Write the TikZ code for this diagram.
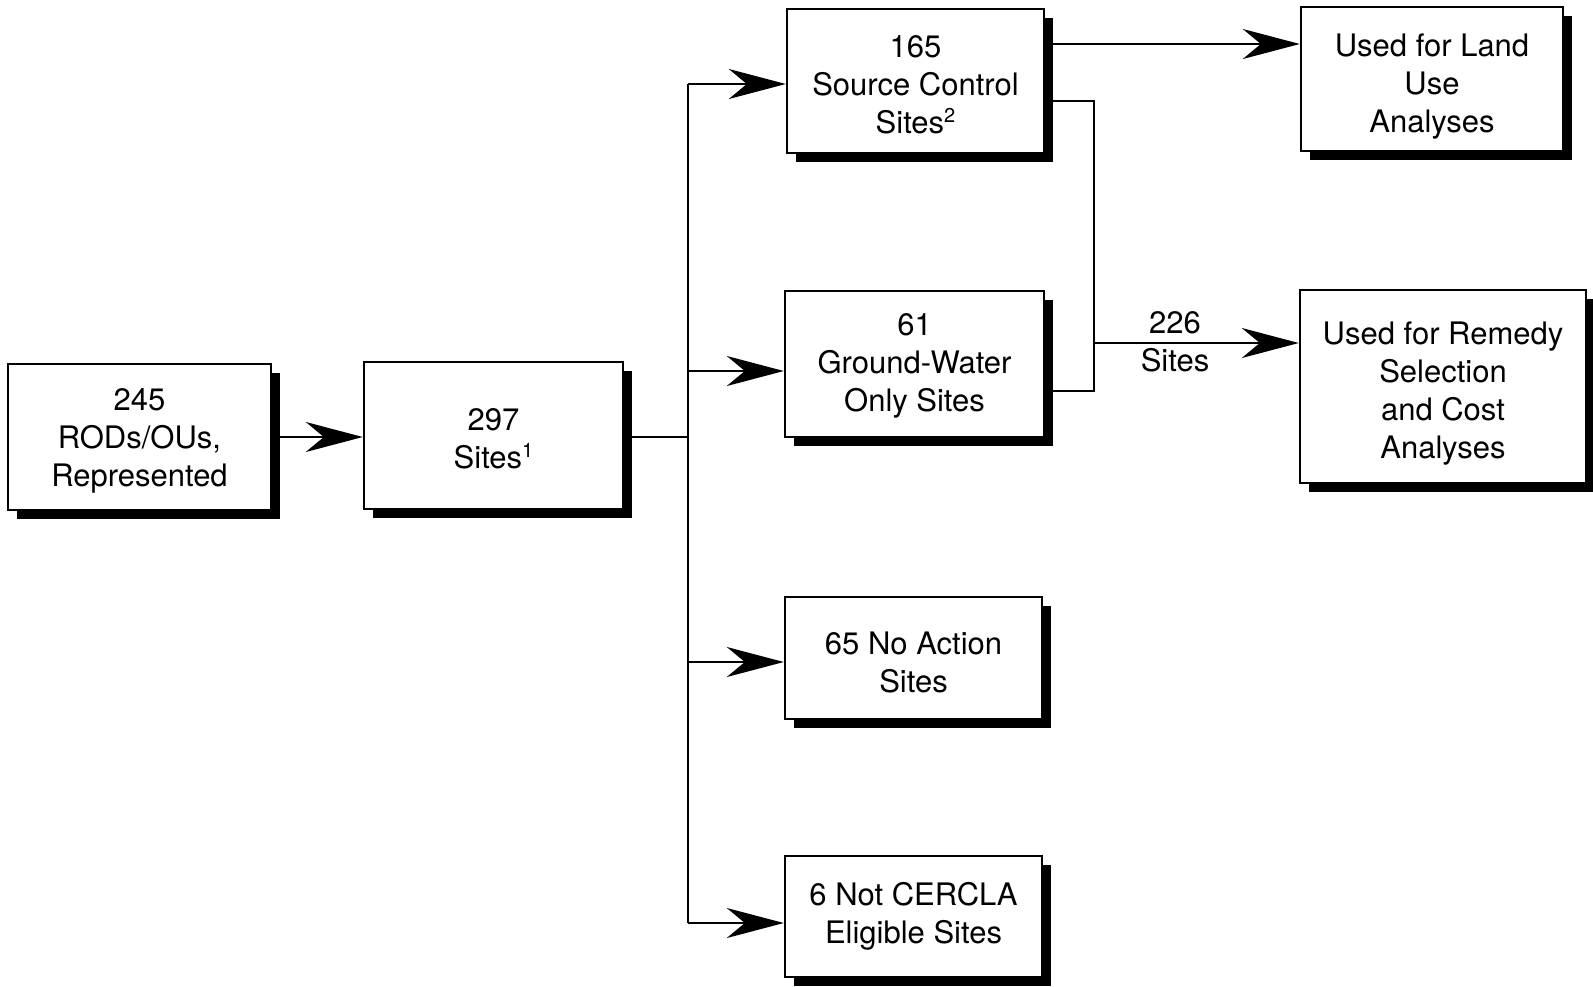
\documentclass[tikz,border=0pt]{standalone}
\usepackage{fontspec}
\setmainfont{TeX Gyre Heros}
\usetikzlibrary{arrows.meta,shadows}
\newcommand{\supnum}[1]{\raisebox{11pt}{\fontsize{20}{20}\selectfont #1}}
\begin{document}
\begin{tikzpicture}[x=1pt,y=-1pt,
  box/.style={draw=black, line width=2.4pt, fill=white, inner sep=0pt,
    drop shadow={shadow xshift=9pt, shadow yshift=-9pt, fill=black, opacity=1}},
  conn/.style={line width=2pt},
  arr/.style={conn, -{Stealth[length=57pt, width=30pt, inset=18pt]}},
  lbl/.style={align=center, inner sep=0pt, font=\fontsize{31}{38}\selectfont}]
\useasboundingbox (0,0) rectangle (1593,986);
\node[box, minimum width=263pt, minimum height=146pt] (A) at (139.5,437) {};
\node[box, minimum width=259pt, minimum height=147pt] (B) at (493.5,435.5) {};
\node[box, minimum width=257pt, minimum height=144pt] (C) at (915.5,81) {};
\node[box, minimum width=259pt, minimum height=146pt] (D) at (914.5,364) {};
\node[box, minimum width=257pt, minimum height=122pt] (E) at (913.5,658) {};
\node[box, minimum width=257pt, minimum height=121pt] (F) at (913.5,916.5) {};
\node[box, minimum width=262pt, minimum height=144pt] (G) at (1432,79) {};
\node[box, minimum width=286pt, minimum height=193pt] (H) at (1443,386.5) {};
\node[lbl] (At) at ([yshift=-4pt]A.center) {245\\RODs/OUs,\\Represented};
\node[lbl] (Bt) at ([yshift=-3pt]B.center) {297\\Sites\supnum{1}};
\node[lbl] (Ct) at ([yshift=-4pt]C.center) {165\\Source Control\\Sites\supnum{2}};
\node[lbl] (Dt) at ([yshift=-2pt]D.center) {61\\Ground-Water\\Only Sites};
\node[lbl] (Et) at ([yshift=-4pt]E.center) {65 No Action\\Sites};
\node[lbl] (Ft) at ([yshift=0pt]F.center) {6 Not CERCLA\\Eligible Sites};
\node[lbl] (Gt) at ([yshift=-8pt]G.center) {Used for Land\\Use\\Analyses};
\node[lbl] (Ht) at ([yshift=-7pt]H.center) {Used for Remedy\\Selection\\and Cost\\Analyses};
% A -> B
\draw[arr] (A.east) -- (A.east -| B.west);
% trunk
\coordinate (tB) at (688,437);
\coordinate (tC) at (688,84);
\coordinate (tD) at (688,371);
\coordinate (tE) at (688,662);
\coordinate (tF) at (688,923);
\draw[conn] (B.east |- tB) -- (tB);
\draw[conn] (tC) -- (tF);
\draw[arr] (tC) -- (tC -| C.west);
\draw[arr] (tD) -- (tD -| D.west);
\draw[arr] (tE) -- (tE -| E.west);
\draw[arr] (tF) -- (tF -| F.west);
% C -> G
\coordinate (c1) at (1053,44);
\draw[arr] (c1) -- (c1 -| G.west);
% bracket
\coordinate (c2) at (1053,101);
\coordinate (j1) at (1094,101);
\coordinate (j2) at (1094,391);
\coordinate (d1) at (1053,391);
\coordinate (jm) at (1094,343);
\draw[conn] (c2) -- (j1) -- (j2) -- (d1);
\draw[arr] (jm) -- (jm -| H.west);
\node[lbl] (L) at (1175,342) {226\\Sites};
\end{tikzpicture}
\end{document}
